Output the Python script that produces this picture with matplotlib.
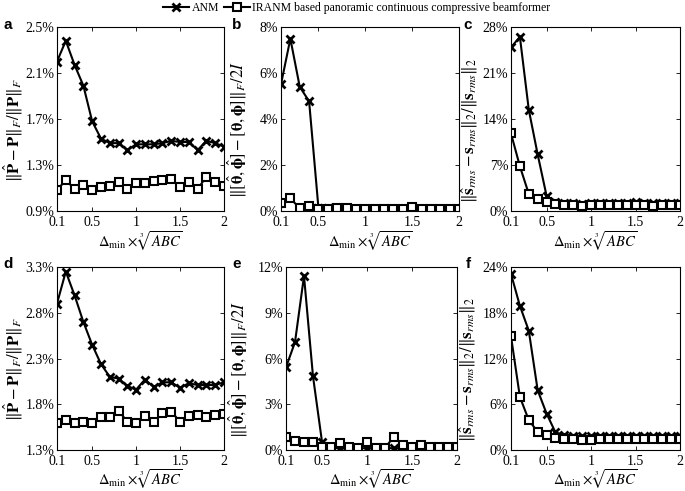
import matplotlib
matplotlib.use("Agg")
import matplotlib.pyplot as plt
from matplotlib.lines import Line2D

plt.rcParams['font.family'] = ['Liberation Serif', 'DejaVu Serif']
plt.rcParams['mathtext.fontset'] = 'stix'

x = [round(0.1 * i, 1) for i in range(1, 21)]

a_anm = [2.20, 2.38, 2.17, 1.99, 1.68, 1.53, 1.49, 1.49, 1.43, 1.48,
         1.48, 1.48, 1.49, 1.51, 1.50, 1.50, 1.43, 1.51, 1.49, 1.46]
a_iranm = [1.08, 1.17, 1.09, 1.13, 1.08, 1.11, 1.12, 1.15, 1.09, 1.14,
           1.14, 1.16, 1.17, 1.18, 1.11, 1.15, 1.09, 1.20, 1.15, 1.12]

b_anm = [5.51, 7.49, 5.40, 4.77, 0.12, 0.11, 0.12, 0.10, 0.10, 0.10,
         0.10, 0.10, 0.10, 0.10, 0.12, 0.10, 0.10, 0.10, 0.10, 0.10]
b_iranm = [0.36, 0.55, 0.12, 0.22, 0.07, 0.10, 0.12, 0.15, 0.08, 0.08,
           0.08, 0.08, 0.08, 0.08, 0.19, 0.10, 0.08, 0.08, 0.08, 0.08]

c_anm = [24.9, 26.5, 15.4, 8.6, 2.3, 1.4, 1.2, 1.2, 1.1, 1.2,
         1.2, 1.2, 1.2, 1.2, 1.3, 1.2, 1.2, 1.2, 1.2, 1.2]
c_iranm = [11.8, 6.8, 2.6, 1.8, 1.4, 1.0, 0.9, 0.9, 0.7, 0.9,
           0.9, 0.9, 0.9, 0.9, 0.9, 0.9, 0.8, 0.9, 0.9, 0.9]

d_anm = [2.90, 3.25, 2.99, 2.70, 2.45, 2.24, 2.10, 2.08, 2.00, 1.96,
         2.07, 1.99, 2.04, 2.04, 1.98, 2.03, 2.01, 2.01, 2.01, 2.04]
d_iranm = [1.60, 1.63, 1.59, 1.61, 1.59, 1.66, 1.66, 1.73, 1.61, 1.60,
           1.67, 1.61, 1.70, 1.72, 1.61, 1.67, 1.68, 1.66, 1.68, 1.69]

e_anm = [5.43, 7.07, 11.41, 4.83, 0.54, 0.12, 0.12, 0.12, 0.12, 0.12,
         0.12, 0.12, 0.12, 0.12, 0.12, 0.12, 0.12, 0.12, 0.12, 0.12]
e_iranm = [0.87, 0.59, 0.50, 0.50, 0.17, 0.22, 0.48, 0.22, 0.15, 0.54,
           0.15, 0.15, 0.87, 0.33, 0.17, 0.33, 0.17, 0.17, 0.17, 0.17]

f_anm = [23.1, 18.9, 15.65, 7.83, 4.78, 2.3, 2.0, 1.9, 1.8, 1.8,
         1.9, 1.8, 1.8, 1.8, 1.8, 1.8, 1.8, 1.8, 1.9, 1.8]
f_iranm = [14.9, 6.96, 3.91, 2.39, 1.96, 1.6, 1.4, 1.4, 1.3, 1.3,
           1.4, 1.4, 1.4, 1.4, 1.4, 1.4, 1.4, 1.4, 1.4, 1.5]

xticks = [0.1, 0.5, 1, 1.5, 2]
xticklabels = ['0.1', '0.5', '1', '1.5', '2']

yticks_list = [
    [0.9, 1.3, 1.7, 2.1, 2.5],
    [0, 2, 4, 6, 8],
    [0, 7, 14, 21, 28],
    [1.3, 1.8, 2.3, 2.8, 3.3],
    [0, 3, 6, 9, 12],
    [0, 6, 12, 18, 24],
]
ytick_labels_list = [
    ['0.9%', '1.3%', '1.7%', '2.1%', '2.5%'],
    ['0%', '2%', '4%', '6%', '8%'],
    ['0%', '7%', '14%', '21%', '28%'],
    ['1.3%', '1.8%', '2.3%', '2.8%', '3.3%'],
    ['0%', '3%', '6%', '9%', '12%'],
    ['0%', '6%', '12%', '18%', '24%'],
]

ylabel_P = r'$\|\hat{\mathbf{P}}-\mathbf{P}\|_F/\|\mathbf{P}\|_F$'
ylabel_T = r'$\|[\hat{\mathbf{\theta}},\hat{\mathbf{\phi}}]-[\mathbf{\theta},\mathbf{\phi}]\|_F/2I$'
ylabel_S = r'$\|\hat{\mathbf{s}}_{rms}-\mathbf{s}_{rms}\|_2/\|\mathbf{s}_{rms}\|_2$'
ylabels = [ylabel_P, ylabel_T, ylabel_S, ylabel_P, ylabel_T, ylabel_S]
xlabel = r'$\Delta_{\min}\times\sqrt[3]{ABC}$'
letters = ['a', 'b', 'c', 'd', 'e', 'f']
letter_pos = [(8, 25), (237, 25), (468, 25), (8, 264), (237, 264), (468, 264)]

series = [(a_anm, a_iranm), (b_anm, b_iranm), (c_anm, c_iranm),
          (d_anm, d_iranm), (e_anm, e_iranm), (f_anm, f_iranm)]

W, H = 685, 491
boxes = [(57, 27, 224, 211), (281, 27, 459, 211), (511, 27, 680, 211),
         (57, 267, 224, 450), (286, 267, 457, 450), (511, 267, 680, 450)]
ylabel_x = [13, 237, 470, 13, 238, 468]

fig = plt.figure(figsize=(W / 100, H / 100), dpi=100)

for i, (l, t, r, b) in enumerate(boxes):
    ax = fig.add_axes([l / W, 1 - b / H, (r - l) / W, (b - t) / H])
    anm, iranm = series[i]
    ax.plot(x, anm, color='black', lw=1.5, marker='x', ms=6, mew=2)
    ax.plot(x, iranm, color='black', lw=1.5, marker='s', ms=5.5, mew=1.5,
            mfc='white')
    yt = yticks_list[i]
    ax.set_xlim(0.1, 2)
    ax.set_ylim(yt[0], yt[-1])
    ax.set_xticks(xticks)
    ax.set_xticklabels(xticklabels)
    ax.set_yticks(yt)
    ax.set_yticklabels(ytick_labels_list[i])
    ax.tick_params(direction='in', top=True, right=True, labelsize=10,
                   length=3, width=0.6, pad=2)
    ax.tick_params(axis='x', pad=3.5)
    for s in ax.spines.values():
        s.set_linewidth(0.8)
    ax.set_xlabel(xlabel, fontsize=10.5)
    ax.set_ylabel(ylabels[i], fontsize=12)
    hgt = b - t
    xl_off = 30 if i < 3 else 29
    ax.xaxis.set_label_coords(0.5, -xl_off / hgt)
    ax.yaxis.set_label_coords((ylabel_x[i] - l) / (r - l), 0.44)
    ax.yaxis.label.set_va('center')
    ax.xaxis.label.set_va('center')
    lx, ly = letter_pos[i]
    fig.text(lx / W, 1 - ly / H, letters[i], fontsize=11,
             fontweight='bold', family='Liberation Sans', ha='center', va='center')

handles = [
    Line2D([], [], color='black', lw=1.5, marker='x', ms=6, mew=2),
    Line2D([], [], color='black', lw=1.5, marker='s', ms=5.5, mew=1.5, mfc='white'),
]
fig.legend(handles, ['ANM', 'IRANM based panoramic continuous compressive beamformer'],
           loc='center', bbox_to_anchor=(357 / W, 1 - 8 / H), ncol=2, frameon=False,
           fontsize=8.5, handlelength=2.2, handletextpad=0.2, columnspacing=0.4,
           borderpad=0)

fig.savefig('out.png', dpi=100)
